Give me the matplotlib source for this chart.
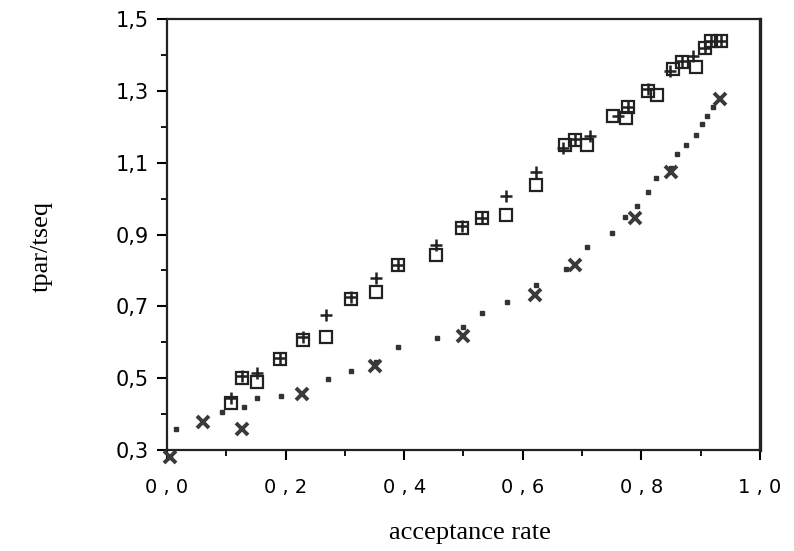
import matplotlib.pyplot as plt
from matplotlib.ticker import FixedLocator, FuncFormatter

# --- data ---
sq_x = [0.108, 0.126, 0.151, 0.191, 0.229, 0.269, 0.311, 0.352, 0.389, 0.453,
        0.497, 0.531, 0.571, 0.622, 0.671, 0.688, 0.708, 0.753, 0.775, 0.778,
        0.812, 0.826, 0.854, 0.868, 0.893, 0.907, 0.918, 0.935]
sq_y = [0.432, 0.500, 0.490, 0.553, 0.606, 0.615, 0.720, 0.741, 0.815, 0.843,
        0.917, 0.945, 0.955, 1.038, 1.150, 1.162, 1.150, 1.229, 1.224, 1.256,
        1.300, 1.289, 1.362, 1.380, 1.365, 1.420, 1.440, 1.440]

plus_x = [0.108, 0.126, 0.151, 0.191, 0.229, 0.269, 0.311, 0.352, 0.389, 0.453,
          0.497, 0.531, 0.571, 0.622, 0.668, 0.688, 0.713, 0.760, 0.778, 0.812,
          0.849, 0.868, 0.888, 0.907, 0.918, 0.935]
plus_y = [0.445, 0.505, 0.514, 0.555, 0.615, 0.676, 0.725, 0.778, 0.815, 0.871,
          0.925, 0.945, 1.006, 1.075, 1.140, 1.165, 1.173, 1.230, 1.256, 1.305,
          1.354, 1.382, 1.396, 1.420, 1.440, 1.440]

dot_x = [0.005, 0.015, 0.092, 0.130, 0.152, 0.193, 0.271, 0.311, 0.352, 0.390,
         0.455, 0.500, 0.532, 0.573, 0.622, 0.673, 0.709, 0.751, 0.773, 0.792,
         0.812, 0.825, 0.850, 0.861, 0.875, 0.893, 0.903, 0.911, 0.921]
dot_y = [0.280, 0.358, 0.407, 0.421, 0.444, 0.451, 0.497, 0.520, 0.546, 0.588,
         0.613, 0.643, 0.681, 0.711, 0.760, 0.805, 0.866, 0.904, 0.948, 0.980,
         1.018, 1.057, 1.086, 1.124, 1.148, 1.177, 1.209, 1.230, 1.256]

x_x = [0.005, 0.060, 0.126, 0.227, 0.351, 0.499, 0.621, 0.688, 0.790, 0.850, 0.932]
x_y = [0.280, 0.379, 0.358, 0.456, 0.535, 0.618, 0.732, 0.815, 0.945, 1.075, 1.278]

xticks = [0.0, 0.2, 0.4, 0.6, 0.8, 1.0]
xminor = [0.1, 0.3, 0.5, 0.7, 0.9]
yticks = [0.3, 0.5, 0.7, 0.9, 1.1, 1.3, 1.5]
yminor = [0.4, 0.6, 0.8, 1.0, 1.2, 1.4]

fig = plt.figure(figsize=(7.94, 5.51), dpi=100)
ax = fig.add_axes([0.2103, 0.1833, 0.7467, 0.7822])

ax.plot(sq_x, sq_y, 's', ms=8, mfc='none', mec='#222222', mew=1.6, clip_on=False)
ax.plot(plus_x, plus_y, '+', ms=9, mec='#222222', mew=1.8, clip_on=False)
ax.plot(dot_x, dot_y, 's', ms=3.2, mfc='#333333', mec='#333333', clip_on=False)
ax.plot(x_x, x_y, 'x', ms=9, mec='#3a3a3a', mew=2.8, clip_on=False)

ax.set_xlim(0.0, 1.0)
ax.set_ylim(0.3, 1.5)
ax.xaxis.set_major_locator(FixedLocator(xticks))
ax.xaxis.set_minor_locator(FixedLocator(xminor))
ax.yaxis.set_major_locator(FixedLocator(yticks))
ax.yaxis.set_minor_locator(FixedLocator(yminor))

ax.xaxis.set_major_formatter(FuncFormatter(lambda v, p: f"{v:.1f}".replace('.', ' , ')))
ax.yaxis.set_major_formatter(FuncFormatter(lambda v, p: f"{v:.1f}".replace('.', ',')))

ax.tick_params(which='major', direction='out', length=7, width=1.5)
ax.tick_params(axis='x', which='major', pad=13, labelsize=14)
ax.tick_params(axis='y', which='major', pad=6, labelsize=15)
ax.tick_params(which='minor', direction='out', length=4, width=1.3)
for lbl in ax.get_xticklabels() + ax.get_yticklabels():
    lbl.set_fontfamily('DejaVu Sans')

for side in ['left', 'bottom', 'top']:
    ax.spines[side].set_linewidth(1.6)
ax.spines['right'].set_linewidth(2.4)
for s in ax.spines.values():
    s.set_color('#222222')

ax.set_xlabel('acceptance rate', fontfamily='Liberation Serif', fontsize=19)
ax.xaxis.set_label_coords(0.511, -0.167)
ax.set_ylabel('tpar/tseq', fontfamily='Liberation Serif', fontsize=19)
ax.yaxis.label.set_verticalalignment('center')
ax.yaxis.set_label_coords(-0.211, 0.473)

fig.savefig('out.png', dpi=100)
